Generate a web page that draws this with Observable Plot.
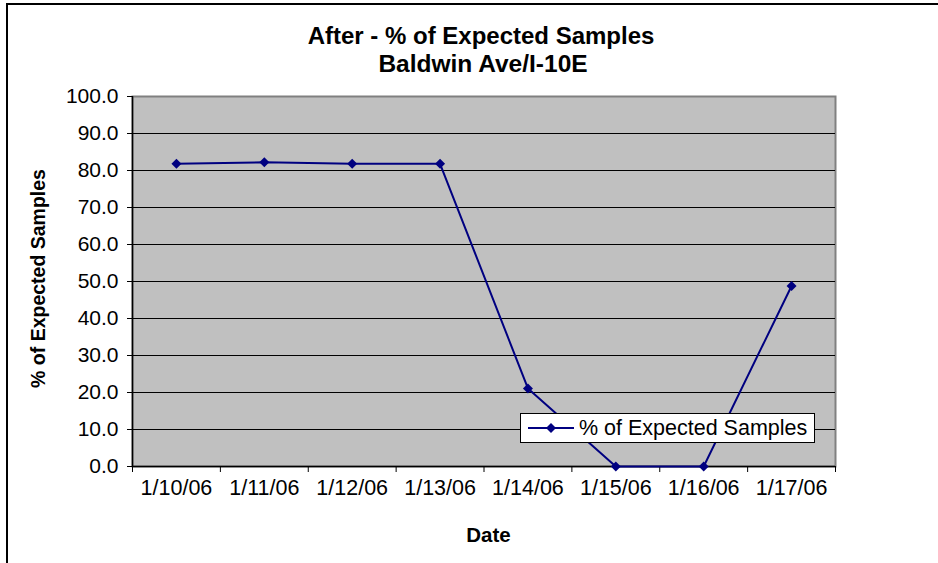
<!DOCTYPE html>
<html><head><meta charset="utf-8">
<script src="https://cdn.jsdelivr.net/npm/d3@7"></script>
<script src="https://cdn.jsdelivr.net/npm/@observablehq/plot@0.6"></script>
<style>
body{margin:0;background:#fff;font-family:"Liberation Sans",Arial,sans-serif;}
#wrap{position:relative;width:938px;height:563px;overflow:hidden;background:#fff;}
#border{position:absolute;left:6px;top:3px;right:-10px;bottom:-10px;border-left:2px solid #000;border-top:2px solid #000;pointer-events:none;}
#legend{position:absolute;left:520px;top:413px;width:293px;height:28px;background:#fff;border:1px solid #000;display:flex;align-items:center;}
#legend span{font-size:21.5px;color:#000;margin-left:4px;white-space:nowrap;}
</style></head><body>
<div id="wrap"><div id="chart"></div><div id="border"></div>
<div id="legend"><svg width="54" height="28"><line x1="7" y1="14" x2="53" y2="14" stroke="#000080" stroke-width="2"/><path d="M30,9L35,14L30,19L25,14Z" fill="#000080"/></svg><span id="legtext"></span></div>
</div>
<script>
const dates = ["1/10/06","1/11/06","1/12/06","1/13/06","1/14/06","1/15/06","1/16/06","1/17/06"];
const values = [81.8, 82.2, 81.8, 81.8, 21.1, 0.0, 0.0, 48.8];
const yTicks = [0,10,20,30,40,50,60,70,80,90,100];
const titleLines = ["After - % of Expected Samples", "Baldwin Ave/I-10E"];
const yLabel = "% of Expected Samples";
const xLabel = "Date";
const seriesName = "% of Expected Samples";

document.getElementById("legtext").textContent = seriesName;

const data = dates.map((d, i) => ({date: d, x: i + 0.5, value: values[i]}));
const diamond = {draw(ctx, size) { const h = Math.sqrt(size / 2); ctx.moveTo(0, -h); ctx.lineTo(h, 0); ctx.lineTo(0, h); ctx.lineTo(-h, 0); ctx.closePath(); }};
const font = "Liberation Sans, Arial, sans-serif";

const chart = Plot.plot({
  width: 938, height: 563,
  marginLeft: 132, marginRight: 103, marginTop: 96, marginBottom: 97,
  style: {fontFamily: font, background: "transparent", overflow: "visible", color: "#000"},
  x: {domain: [0, dates.length]},
  y: {domain: [0, 100]},
  marks: [
    Plot.frame({fill: "#c0c0c0", stroke: "#808080", strokeWidth: 2}),
    Plot.ruleY(yTicks.filter(t => t > 0 && t < 100), {stroke: "#000", strokeWidth: 1}),
    Plot.ruleY([0], {stroke: "#000", strokeWidth: 1.5}),
    Plot.ruleX([0], {stroke: "#000", strokeWidth: 1.5}),
    Plot.axisY({ticks: yTicks, tickFormat: d => d.toFixed(1), tickSize: 5, tickPadding: 9, fontSize: 21, label: null}),
    Plot.axisX({ticks: d3.range(0, dates.length + 1), tickFormat: () => "", tickSize: 6, label: null}),
    Plot.axisX({ticks: dates.map((d, i) => i + 0.5), tickFormat: v => dates[Math.floor(v)], tickSize: 0, tickPadding: 13, fontSize: 21.5, label: null}),
    Plot.line(data, {x: "x", y: "value", stroke: "#000080", strokeWidth: 2}),
    Plot.dot(data, {x: "x", y: "value", symbol: diamond, r: 4, fill: "#000080", stroke: "none"}),
    Plot.text([titleLines[0]], {text: d => d, frameAnchor: "top", lineAnchor: "middle", dy: -60, dx: -3, fontSize: 24, fontWeight: "bold"}),
    Plot.text([titleLines[1]], {text: d => d, frameAnchor: "top", lineAnchor: "middle", dy: -32, dx: -1, fontSize: 24.5, fontWeight: "bold"}),
    Plot.text([yLabel], {text: d => d, frameAnchor: "left", lineAnchor: "middle", dx: -94, dy: -3, rotate: -90, textAnchor: "middle", fontSize: 19.5, fontWeight: "bold"}),
    Plot.text([xLabel], {text: d => d, frameAnchor: "bottom", lineAnchor: "middle", dy: 69, dx: 4.5, fontSize: 20.5, fontWeight: "bold"})
  ]
});
document.getElementById("chart").appendChild(chart);
</script>
</body></html>
